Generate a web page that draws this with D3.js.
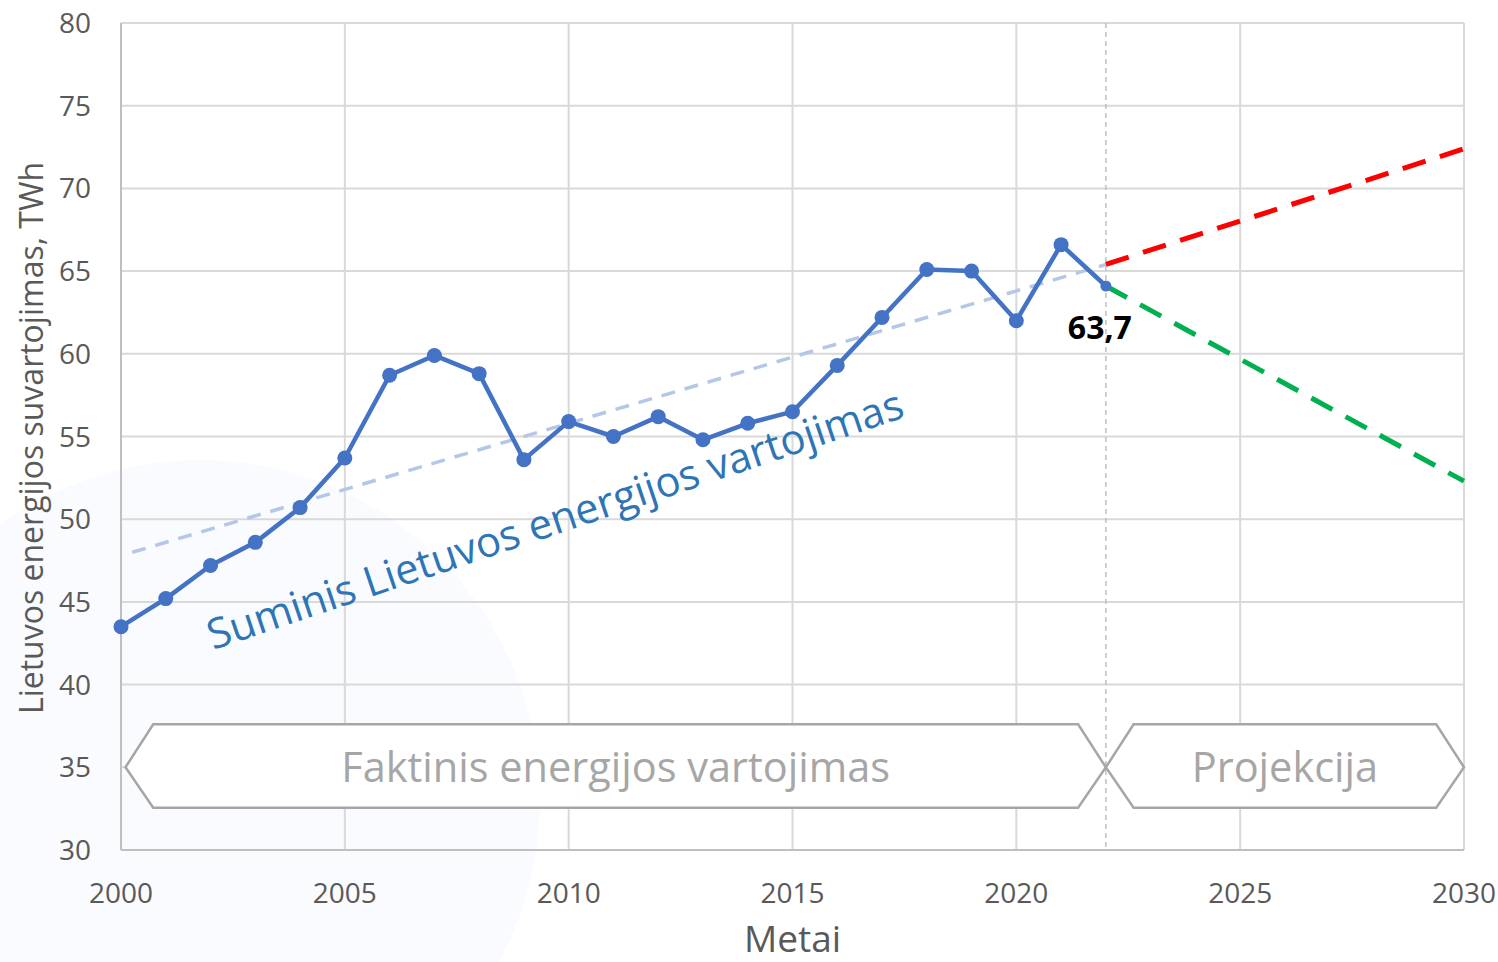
<!DOCTYPE html>
<html>
<head>
<meta charset="utf-8">
<script src="https://cdn.jsdelivr.net/npm/d3@7"></script>
<style>
  body { margin: 0; background: #fff; }
  svg { display: block; font-family: "Open Sans", sans-serif; }
</style>
</head>
<body>
<svg width="1498" height="962"></svg>
<script>
const years = [2000, 2001, 2002, 2003, 2004, 2005, 2006, 2007, 2008, 2009, 2010,
    2011, 2012, 2013, 2014, 2015, 2016, 2017, 2018, 2019, 2020, 2021, 2022]
const consumption = [43.5, 45.2, 47.2, 48.6, 50.7, 53.7, 58.7, 59.9, 58.8, 53.6, 55.9,
    55.0, 56.2, 54.8, 55.8, 56.5, 59.3, 62.2, 65.1, 65.0, 62.0, 66.6, 64.1]
const trend = [[2000.25, 48.0], [2022, 65.4]]
const projectionHigh = [[2022, 65.4], [2030, 72.4]]
const projectionLow = [[2022, 64.1], [2030, 52.3]]
const xTicks = [2000, 2005, 2010, 2015, 2020, 2025, 2030]
const yTicks = [30, 35, 40, 45, 50, 55, 60, 65, 70, 75, 80]
const lastLabel = "63,7"
const splitYear = 2022

function drawChart() {
    const svg = d3.select("svg")
    const left = 121, right = 1464, top = 23, bottom = 850

    const x = d3.scaleLinear().domain([2000, 2030]).range([left, right])
    const y = d3.scaleLinear().domain([30, 80]).range([bottom, top])

    // faint background glow, bottom left
    svg.append("circle")
        .attr("cx", 200).attr("cy", 800).attr("r", 340)
        .attr("fill", "#fafbfe")

    // grid
    svg.append("g")
        .selectAll("line")
        .data(yTicks)
        .enter()
        .append("line")
        .attr("x1", left).attr("x2", right)
        .attr("y1", d => y(d)).attr("y2", d => y(d))
        .attr("stroke", "#d9d9d9").attr("stroke-width", 2)
    svg.append("g")
        .selectAll("line")
        .data(xTicks)
        .enter()
        .append("line")
        .attr("x1", d => x(d)).attr("x2", d => x(d))
        .attr("y1", top).attr("y2", bottom)
        .attr("stroke", "#d9d9d9").attr("stroke-width", 2)

    // axes lines
    svg.append("line")
        .attr("x1", left).attr("x2", left).attr("y1", top).attr("y2", bottom)
        .attr("stroke", "#bfbfbf").attr("stroke-width", 2)
    svg.append("line")
        .attr("x1", left).attr("x2", right).attr("y1", bottom).attr("y2", bottom)
        .attr("stroke", "#bfbfbf").attr("stroke-width", 2)

    // tick labels
    svg.append("g")
        .selectAll("text")
        .data(yTicks)
        .enter()
        .append("text")
        .attr("x", 91).attr("y", d => y(d))
        .attr("dy", "0.36em")
        .attr("text-anchor", "end")
        .attr("font-size", 28)
        .attr("fill", "#595959")
        .text(d => d)
    svg.append("g")
        .selectAll("text")
        .data(xTicks)
        .enter()
        .append("text")
        .attr("x", d => x(d)).attr("y", 903)
        .attr("text-anchor", "middle")
        .attr("font-size", 28)
        .attr("fill", "#595959")
        .text(d => d)

    // axis titles
    svg.append("text")
        .attr("x", (left + right) / 2).attr("y", 952)
        .attr("text-anchor", "middle")
        .attr("font-size", 37)
        .attr("fill", "#595959")
        .text("Metai")
    svg.append("text")
        .attr("transform", `translate(43, 438) rotate(-90)`)
        .attr("text-anchor", "middle")
        .attr("font-size", 32)
        .attr("fill", "#595959")
        .text("Lietuvos energijos suvartojimas, TWh")

    // split line
    svg.append("line")
        .attr("x1", x(splitYear)).attr("x2", x(splitYear))
        .attr("y1", top).attr("y2", bottom)
        .attr("stroke", "#bfbfbf").attr("stroke-width", 1.5)
        .attr("stroke-dasharray", "5,4")

    // arrow boxes
    const inset = 0.62
    const boxTop = 37.6, boxMid = 35, boxBot = 32.55
    function hexagon(x0, x1) {
        return [[x0, boxMid], [x0 + inset, boxTop], [x1 - inset, boxTop],
            [x1, boxMid], [x1 - inset, boxBot], [x0 + inset, boxBot]]
            .map(p => `${x(p[0])},${y(p[1])}`).join(" ")
    }
    const boxes = [
        { x0: 2000.1, x1: splitYear, label: "Faktinis energijos vartojimas" },
        { x0: splitYear, x1: 2030, label: "Projekcija" }
    ]
    svg.append("g")
        .selectAll("polygon")
        .data(boxes)
        .enter()
        .append("polygon")
        .attr("points", d => hexagon(d.x0, d.x1))
        .attr("fill", "white")
        .attr("stroke", "#a6a6a6")
        .attr("stroke-width", 2.5)
    svg.append("g")
        .selectAll("text")
        .data(boxes)
        .enter()
        .append("text")
        .attr("x", d => (x(d.x0) + x(d.x1)) / 2).attr("y", y(boxMid))
        .attr("dy", "0.36em")
        .attr("text-anchor", "middle")
        .attr("font-size", 41.5)
        .attr("fill", "#a6a6a6")
        .text(d => d.label)

    const line = d3.line().x(d => x(d[0])).y(d => y(d[1]))

    // trend + projections
    svg.append("path")
        .attr("d", line(trend))
        .attr("fill", "none")
        .attr("stroke", "#b4c7e7").attr("stroke-width", 3.5)
        .attr("stroke-dasharray", "14,10")
    svg.append("path")
        .attr("d", line(projectionHigh))
        .attr("fill", "none")
        .attr("stroke", "#ff0000").attr("stroke-width", 5)
        .attr("stroke-dasharray", "24,15")
    svg.append("path")
        .attr("d", line(projectionLow))
        .attr("fill", "none")
        .attr("stroke", "#00b050").attr("stroke-width", 5)
        .attr("stroke-dasharray", "24,15")

    // actual series
    const points = years.map((yr, i) => [yr, consumption[i]])
    svg.append("path")
        .attr("d", line(points))
        .attr("fill", "none")
        .attr("stroke", "#4472c4").attr("stroke-width", 4.5)
        .attr("stroke-linejoin", "round")
    svg.append("g")
        .selectAll("circle")
        .data(points)
        .enter()
        .append("circle")
        .attr("cx", d => x(d[0])).attr("cy", d => y(d[1]))
        .attr("r", (d, i) => i === points.length - 1 ? 5.5 : 7.5)
        .attr("fill", "#4472c4")

    const last = points[points.length - 1]
    svg.append("text")
        .attr("x", x(last[0]) - 6).attr("y", y(last[1]) + 53)
        .attr("text-anchor", "middle")
        .attr("font-size", 32)
        .attr("font-weight", "bold")
        .attr("fill", "#000")
        .text(lastLabel)

    // series label along the trend
    svg.append("text")
        .attr("transform", `translate(213, 650) rotate(-18.6)`)
        .attr("font-size", 41.8)
        .attr("fill", "#2e75b6")
        .text("Suminis Lietuvos energijos vartojimas")
}
drawChart()
</script>
</body>
</html>
